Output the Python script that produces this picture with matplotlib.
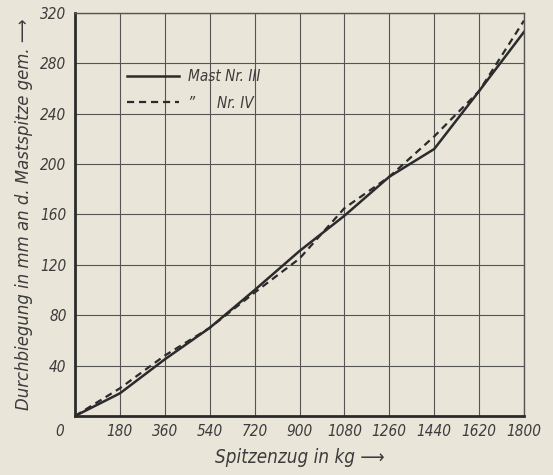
import matplotlib
matplotlib.use("Agg")
import matplotlib.pyplot as plt

# Load at the mast tip (kg) and measured deflection (mm)
spitzenzug = [0, 180, 360, 540, 720, 900, 1080, 1260, 1440, 1620, 1800]
mast_iii = [0, 18, 45, 70, 100, 131, 159, 190, 212, 258, 305]
mast_iv = [0, 22, 48, 70, 98, 125, 165, 190, 222, 258, 314]

x_ticks = [180, 360, 540, 720, 900, 1080, 1260, 1440, 1620, 1800]
y_ticks = [40, 80, 120, 160, 200, 240, 280, 320]

INK = "#2b2b2b"
TEXT = "#3c3c3c"
PAPER = "#e9e5d8"

plt.rcParams["font.family"] = ["DejaVu Sans"]
plt.rcParams["font.style"] = "italic"
plt.rcParams["font.stretch"] = "condensed"

fig = plt.figure(figsize=(5.53, 4.75), dpi=100, facecolor=PAPER)
ax = fig.add_axes([75 / 553, 1 - 416 / 475, 449 / 553, 403 / 475])
ax.set_facecolor(PAPER)

ax.plot(spitzenzug, mast_iii, color=INK, lw=1.8, label="Mast Nr. III")
ax.plot(spitzenzug, mast_iv, color=INK, lw=1.6, ls=(0, (3.2, 2.2)),
        label="\u201d     Nr. IV")

ax.set_xlim(0, 1800)
ax.set_ylim(0, 320)
ax.set_xticks(x_ticks)
ax.set_yticks(y_ticks)
ax.grid(True, color="#555555", lw=0.8)
ax.tick_params(length=0, pad=6, labelsize=11, colors=TEXT)
for s in ax.spines.values():
    s.set_color("#555555")
    s.set_linewidth(1.0)
ax.spines["left"].set_color(INK)
ax.spines["left"].set_linewidth(2.0)
ax.spines["bottom"].set_color(INK)
ax.spines["bottom"].set_linewidth(2.0)

# shared origin label
ax.text(-0.025, -0.02, "0", transform=ax.transAxes, ha="right", va="top",
        fontsize=11, color=TEXT)

ax.set_xlabel("Spitzenzug in kg \u27f6", fontsize=13.5, color=TEXT,
              labelpad=6)
ax.set_ylabel("Durchbiegung in mm an d. Mastspitze gem. \u27f6", fontsize=13.2,
              color=TEXT, labelpad=5)

leg = ax.legend(loc="upper left", bbox_to_anchor=(0.085, 0.895), frameon=False,
                fontsize=11, handlelength=3.4, handletextpad=0.6,
                labelspacing=0.75, labelcolor=TEXT)

fig.savefig("out.png", dpi=100, facecolor=PAPER)
